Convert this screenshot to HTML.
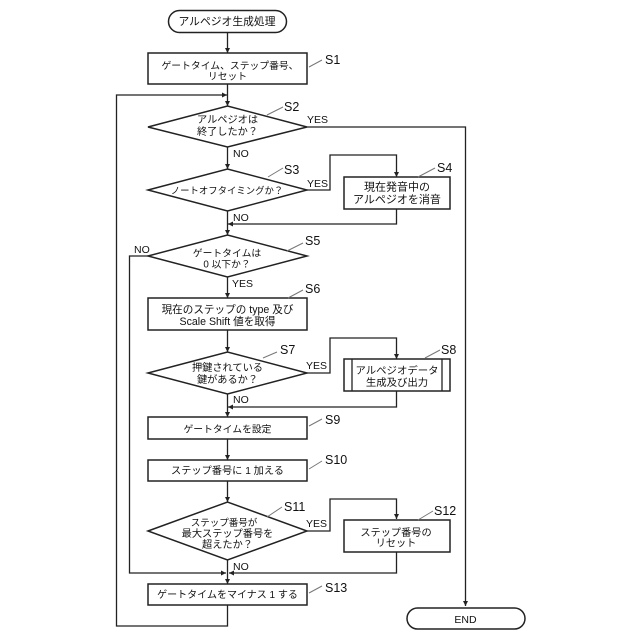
<!DOCTYPE html>
<html><head><meta charset="utf-8">
<style>
html,body{margin:0;padding:0;background:#fff;width:640px;height:640px;overflow:hidden}
svg{display:block}
text{font-family:"Liberation Sans","Noto Sans CJK JP",sans-serif;fill:#111;font-size:10px}
.m{text-anchor:middle}
.l{font-size:10.5px}
.s{font-size:12.5px}
.sh{fill:#fff;stroke:#222;stroke-width:1.5}
.c{fill:none;stroke:#222;stroke-width:1.3}
.g{fill:none;stroke:#777;stroke-width:1}
.a{fill:#222;stroke:none}
</style></head><body>
<svg width="640" height="640" viewBox="0 0 640 640" xmlns="http://www.w3.org/2000/svg">
<!-- connectors -->
<path class="c" d="M227.5 32V53M227.5 84V106M227.5 147V169M227.5 211V235M227.5 277V298M227.5 330V352M227.5 394V417M227.5 439V460M227.5 481V502M227.5 560V584"/>
<path class="c" d="M227.5 605V626H116.5V95H227"/>
<path class="c" d="M307 127H465.5V606"/>
<path class="c" d="M307 190H330V155H396.5V177"/>
<path class="c" d="M396.5 209V224H228"/>
<path class="c" d="M148 256H129.5V573H226"/>
<path class="c" d="M307 373H330V338H396.5V359"/>
<path class="c" d="M396.5 391V407H228"/>
<path class="c" d="M307 531H330V499H396.5V519"/>
<path class="c" d="M396.5 552V573H229"/>
<!-- arrowheads -->
<path class="a" d="M225 48L230 48L227.5 53ZM225 101L230 101L227.5 106ZM225 164L230 164L227.5 169ZM225 230L230 230L227.5 235ZM225 293L230 293L227.5 298ZM225 347L230 347L227.5 352ZM225 412L230 412L227.5 417ZM225 455L230 455L227.5 460ZM225 497L230 497L227.5 502ZM225 579L230 579L227.5 584Z"/>
<path class="a" d="M222 92.500L222 97.500L227 95ZM463 601L468 601L465.500 606ZM394 172L399 172L396.500 177ZM394 354L399 354L396.500 359ZM394 514L399 514L396.500 519Z"/>
<path class="a" d="M228 224L233 221.500L233 226.500ZM228 407L233 404.500L233 409.500ZM229 573L234 570.500L234 575.500ZM226 573L221 570.500L221 575.500Z"/>
<!-- shapes -->
<rect class="sh" x="168.500" y="10.500" width="118" height="22" rx="11"/>
<rect class="sh" x="148" y="53" width="159" height="31"/>
<path class="sh" d="M148 127L227.500 106L307 127L227.500 147Z"/>
<path class="sh" d="M148 190L227.500 169L307 190L227.500 211Z"/>
<rect class="sh" x="344" y="177" width="106" height="32"/>
<path class="sh" d="M148 256L227.500 235L307 256L227.500 277Z"/>
<rect class="sh" x="148" y="298" width="159" height="32"/>
<path class="sh" d="M148 373L227.500 352L307 373L227.500 394Z"/>
<rect class="sh" x="344" y="359" width="106" height="32"/>
<path class="c" d="M352 359V391M442 359V391"/>
<rect class="sh" x="148" y="417" width="159" height="22"/>
<rect class="sh" x="148" y="460" width="159" height="21"/>
<path class="sh" d="M148 531L227.500 502L307 531L227.500 560Z"/>
<rect class="sh" x="344" y="520" width="106" height="32"/>
<rect class="sh" x="148" y="584" width="159" height="21"/>
<rect class="sh" x="407" y="608" width="118" height="21" rx="10.500"/>
<!-- leaders -->
<path class="g" d="M309 67L322 60M267 115L283 107M268 177L283 168M418 177L435 168M287 251L303 243M288 298L303 290M263 358L277 352M425 358L440 350M309 426L322 419M309 469L322 461M267 517L282 507M418 520L433 511M309 593L322 586"/>
<!-- text -->
<text class="m" x="227" y="25" style="font-size:10.800px">アルペジオ生成処理</text>
<text class="m" x="230" y="69" style="font-size:9.800px">ゲートタイム、ステップ番号、</text>
<text class="m" x="227.500" y="79.500" style="font-size:9.800px">リセット</text>
<text class="m" x="227.500" y="123" style="font-size:10.200px">アルペジオは</text>
<text class="m" x="227.500" y="135" style="font-size:10.200px">終了したか？</text>
<text class="m" x="227" y="194" style="font-size:9.400px">ノートオフタイミングか？</text>
<text class="m" x="397" y="190.500" style="font-size:11px">現在発音中の</text>
<text class="m" x="397" y="203" style="font-size:11px">アルペジオを消音</text>
<text class="m" x="227" y="256.500" style="font-size:9.800px">ゲートタイムは</text>
<text class="m" x="227" y="267.500" style="font-size:9.800px">0 以下か？</text>
<text class="m" x="227.500" y="313" style="font-size:10.600px">現在のステップの type 及び</text>
<text class="m" x="227.500" y="325" style="font-size:10.600px">Scale Shift 値を取得</text>
<text class="m" x="227.500" y="371" style="font-size:10.200px">押鍵されている</text>
<text class="m" x="227.500" y="383" style="font-size:10.200px">鍵があるか？</text>
<text class="m" x="397" y="374" style="font-size:10.400px">アルペジオデータ</text>
<text class="m" x="397" y="386" style="font-size:10.400px">生成及び出力</text>
<text class="m" x="227.500" y="432.500" style="font-size:9.800px">ゲートタイムを設定</text>
<text class="m" x="227.500" y="474" style="font-size:10.200px">ステップ番号に 1 加える</text>
<text class="m" x="224" y="526" style="font-size:9.500px">ステップ番号が</text>
<text class="m" x="227.500" y="537" style="font-size:10.200px">最大ステップ番号を</text>
<text class="m" x="227.500" y="548" style="font-size:10.200px">超えたか？</text>
<text class="m" x="396" y="536" style="font-size:10.200px">ステップ番号の</text>
<text class="m" x="396" y="546.500" style="font-size:10.200px">リセット</text>
<text class="m" x="227.500" y="598" style="font-size:10px">ゲートタイムをマイナス 1 する</text>
<text class="m" x="465.500" y="623" style="font-size:10.500px">END</text>
<!-- YES/NO -->
<text class="l" x="307" y="123">YES</text>
<text class="l" x="233" y="157">NO</text>
<text class="l" x="307" y="187">YES</text>
<text class="l" x="233" y="221">NO</text>
<text class="l" x="134" y="253">NO</text>
<text class="l" x="232" y="287">YES</text>
<text class="l" x="306" y="369">YES</text>
<text class="l" x="233" y="403">NO</text>
<text class="l" x="306" y="527">YES</text>
<text class="l" x="233" y="570">NO</text>
<!-- step labels -->
<text class="s" x="325" y="64">S1</text>
<text class="s" x="284" y="111">S2</text>
<text class="s" x="284" y="174">S3</text>
<text class="s" x="437" y="172">S4</text>
<text class="s" x="305" y="245">S5</text>
<text class="s" x="305" y="293">S6</text>
<text class="s" x="280" y="354">S7</text>
<text class="s" x="441" y="354">S8</text>
<text class="s" x="325" y="424">S9</text>
<text class="s" x="325" y="464">S10</text>
<text class="s" x="284" y="511">S11</text>
<text class="s" x="434" y="515">S12</text>
<text class="s" x="325" y="592">S13</text>
</svg>
</body></html>
